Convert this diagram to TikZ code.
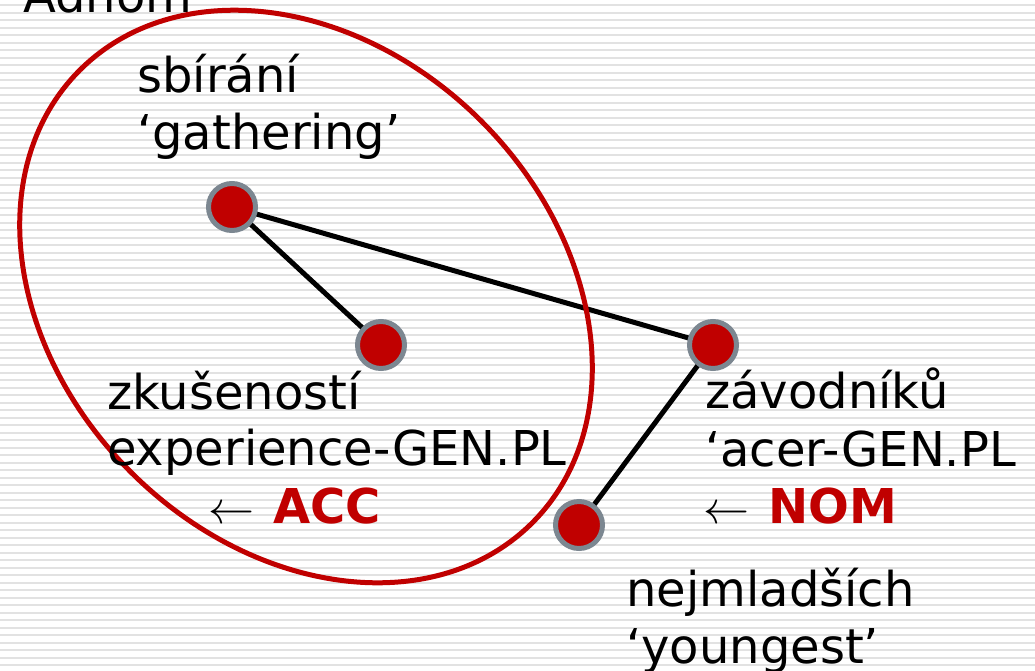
\documentclass[tikz,border=0pt]{standalone}
\usepackage{fontspec}
\usepackage{graphicx}
\setmainfont{DejaVu Sans}
\definecolor{accred}{HTML}{C00000}
\definecolor{ringgray}{HTML}{7C8791}
\definecolor{stripegray}{HTML}{E2E2E2}
% thin "governed by" arrow, scaled up from the 10pt math arrow
\newcommand{\govarrow}{\scalebox{4.6}{\fontsize{10}{12}\selectfont$\leftarrow$}}
\begin{document}
\begin{tikzpicture}[x=1pt,y=1pt,
  stripe/.style={stripegray, line width=2pt},
  word/.style={anchor=base west, inner sep=0pt, font=\fontsize{48}{57}\selectfont},
  dot/.style={circle, fill=accred, draw=ringgray, line width=5pt, minimum size=47pt, inner sep=0pt},
  link/.style={black, line width=5pt},
  group/.style={accred, line width=5pt}]
\useasboundingbox (0,0) rectangle (1035,-670);
% ruled background
\foreach \i in {0,...,89}
  \draw[stripe] (0,-5-7.5*\i) -- (1035,-5-7.5*\i);
% dependency nodes
\coordinate (p-gather) at (232,-207);
\coordinate (p-exper) at (381,-345);
\coordinate (p-racer) at (713,-345);
\coordinate (p-young) at (579,-525);
% dependency links
\draw[link] (p-gather) -- (p-exper);
\draw[link] (p-gather) -- (p-racer);
\draw[link] (p-racer) -- (p-young);
% constituent grouping
\draw[group, rotate around={-45:(306,-296.5)}] (306,-296.5) ellipse [x radius=320, y radius=248];
\node[dot] (gather) at (p-gather) {};
\node[dot] (exper) at (p-exper) {};
\node[dot] (racer) at (p-racer) {};
\node[dot] (young) at (p-young) {};
% labels
\node[word] (adnom) at (23,-12) {Adnom};
\node[word] (w1a) at (137,-92) {sbírání};
\node[word] (w1b) at (137,-149) {‘gathering’};
\node[word] (w2a) at (107,-409) {zkušeností};
\node[word] (w2b) at (107,-465) {experience-GEN.PL};
\node[word] (w2c) at (208,-523) {\govarrow\hspace{19pt}\textcolor{accred}{\bfseries ACC}};
\node[word] (w3a) at (705,-408) {závodníků};
\node[word] (w3b) at (705,-466) {‘acer-GEN.PL};
\node[word] (w3c) at (703,-523) {\govarrow\hspace{19pt}\textcolor{accred}{\bfseries NOM}};
\node[word] (w4a) at (626,-606) {nejmladších};
\node[word] (w4b) at (626,-663) {‘youngest’};
\end{tikzpicture}
\end{document}
